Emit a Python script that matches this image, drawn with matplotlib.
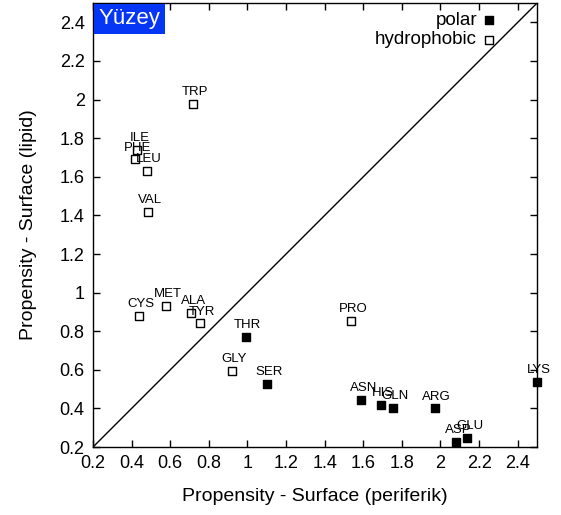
import matplotlib
matplotlib.use("Agg")
import matplotlib.pyplot as plt

plt.rcParams['font.family'] = ['Liberation Sans', 'DejaVu Sans']

# polar residues (filled squares)
polar_names = ['THR', 'SER', 'ASN', 'HIS', 'GLN', 'ARG', 'ASP', 'GLU', 'LYS']
polar_x = [0.99, 1.10, 1.59, 1.69, 1.755, 1.97, 2.08, 2.14, 2.50]
polar_y = [0.77, 0.526, 0.444, 0.418, 0.402, 0.40, 0.226, 0.247, 0.537]

# hydrophobic residues (open squares)
hyd_names = ['TRP', 'ILE', 'PHE', 'LEU', 'VAL', 'CYS', 'MET', 'ALA', 'TYR', 'GLY', 'PRO']
hyd_x = [0.716, 0.43, 0.418, 0.48, 0.485, 0.44, 0.577, 0.71, 0.753, 0.92, 1.536]
hyd_y = [1.977, 1.74, 1.69, 1.63, 1.418, 0.879, 0.93, 0.894, 0.84, 0.594, 0.853]

x_ticks = [0.2, 0.4, 0.6, 0.8, 1, 1.2, 1.4, 1.6, 1.8, 2, 2.2, 2.4]
y_ticks = [0.2, 0.4, 0.6, 0.8, 1, 1.2, 1.4, 1.6, 1.8, 2, 2.2, 2.4]

fig = plt.figure(figsize=(5.61, 5.15), dpi=100)
ax = fig.add_axes([0.1658, 0.132, 0.7914, 0.862])

ax.set_xlim(0.2, 2.5)
ax.set_ylim(0.2, 2.5)

# diagonal y = x
ax.plot([0.2, 2.5], [0.2, 2.5], color='black', lw=1.0)

ax.scatter(polar_x, polar_y, marker='s', s=40, c='black', edgecolors='black',
           linewidths=1.0, zorder=3, clip_on=False)
ax.scatter(hyd_x, hyd_y, marker='s', s=40, facecolors='white', edgecolors='black',
           linewidths=1.0, zorder=3, clip_on=False)

for n, x, y in zip(polar_names + hyd_names, polar_x + hyd_x, polar_y + hyd_y):
    ax.annotate(n, (x, y), xytext=(1.5, 8.5), textcoords='offset points',
                ha='center', va='center', fontsize=9.5, annotation_clip=False)

# legend at top right
ax.text(2.19, 2.41, 'polar', ha='right', va='center', fontsize=13.5)
ax.scatter([2.25], [2.41], marker='s', s=40, c='black', zorder=3)
ax.text(2.19, 2.31, 'hydrophobic', ha='right', va='center', fontsize=13.5)
ax.scatter([2.25], [2.31], marker='s', s=40, facecolors='white',
           edgecolors='black', linewidths=1.0, zorder=3)

ax.text(0.012, 0.988, 'Yüzey', transform=ax.transAxes, ha='left', va='top',
        fontsize=16, color='white',
        bbox=dict(boxstyle='square,pad=0.2', facecolor='#0536f5', edgecolor='none'))

ax.set_xticks(x_ticks)
ax.set_xticklabels([str(t) for t in x_ticks])
ax.set_yticks(y_ticks)
ax.set_yticklabels([str(t) for t in y_ticks])
ax.tick_params(direction='in', length=5, width=1, top=True, right=True,
               labelsize=13, pad=6)
for s in ax.spines.values():
    s.set_linewidth(1.0)

ax.set_xlabel('Propensity - Surface (periferik)', fontsize=14, labelpad=11)
ax.set_ylabel('Propensity - Surface (lipid)', fontsize=14, labelpad=16)

fig.savefig('out.png', dpi=100)
